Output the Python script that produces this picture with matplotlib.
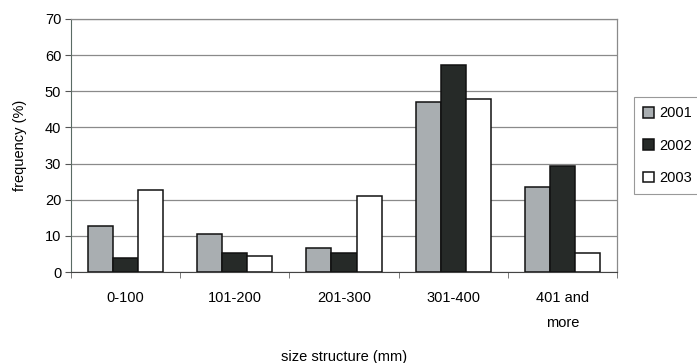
import numpy as np
import matplotlib
matplotlib.use("Agg")
import matplotlib.pyplot as plt

plt.rcParams['font.family'] = ['Liberation Sans', 'DejaVu Sans']

# size classes and frequency (%) per year
categories = ['0-100', '101-200', '201-300', '301-400', '401 and\nmore']
years = ['2001', '2002', '2003']
freq_2001 = [12.8, 10.6, 6.6, 46.9, 23.4]
freq_2002 = [3.8, 5.2, 5.2, 57.4, 29.2]
freq_2003 = [22.8, 4.3, 21.1, 47.9, 5.3]
colors = ['#a9aeb1', '#262a28', '#ffffff']

fs = 10.5
fig = plt.figure(figsize=(6.97, 3.63), dpi=100)
ax = fig.add_axes([71 / 697, 1 - 272 / 363, (617 - 71) / 697, (272 - 19) / 363])

x = np.arange(len(categories))
w = 0.23
for i, (vals, lab, c) in enumerate(zip([freq_2001, freq_2002, freq_2003], years, colors)):
    ax.bar(x + (i - 1) * w, vals, width=w, color=c, edgecolor='#111111',
           linewidth=1.1, label=lab, zorder=3)

ax.set_xlim(-0.5, len(categories) - 0.5)
ax.set_ylim(0, 70)
ax.set_yticks(range(0, 71, 10))
ax.yaxis.grid(True, color='#8a8a8a', linewidth=0.9, zorder=0)

# category labels centred, tick marks on the boundaries
ax.set_xticks(x)
ax.set_xticklabels(categories, fontsize=fs, linespacing=2.0, va='top')
ax.tick_params(axis='x', length=0, pad=14)
ax.set_xticks(np.arange(-0.5, len(categories)), minor=True)
ax.tick_params(axis='x', which='minor', length=4, color='#666666', direction='out')
ax.tick_params(axis='y', length=4, color='#555555', labelsize=fs, pad=3)

for s in ['top', 'right']:
    ax.spines[s].set_color('#8a8a8a')
    ax.spines[s].set_linewidth(0.9)
ax.spines['left'].set_color('#5a6b64')
ax.spines['bottom'].set_color('#444444')

ax.set_ylabel('frequency (%)', fontsize=fs, labelpad=13)
fig.text((71 + 617) / 2 / 697, 1 - 357 / 363, 'size structure (mm)', fontsize=fs,
         ha='center', va='center')

leg = fig.legend(loc='upper left', bbox_to_anchor=(634 / 697, 1 - 97 / 363),
                 fontsize=fs, handlelength=0.75, handleheight=0.75, handletextpad=0.35,
                 labelspacing=1.25, borderpad=0.65, borderaxespad=0,
                 fancybox=False, framealpha=1)
leg.get_frame().set_edgecolor('#999999')
leg.get_frame().set_linewidth(0.8)

fig.savefig('out.png', dpi=100)
